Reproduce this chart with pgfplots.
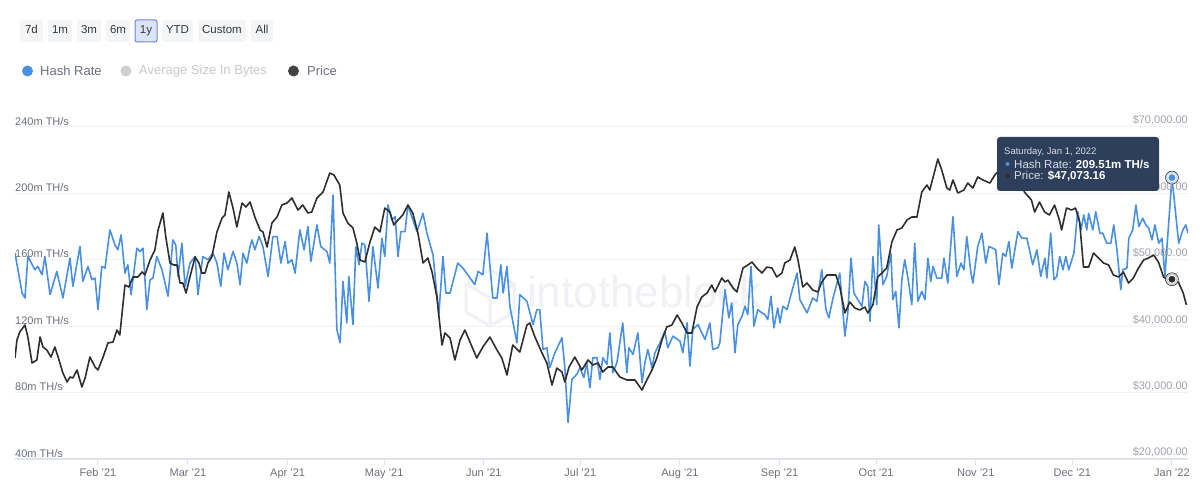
\documentclass[border=0pt]{standalone}
\usepackage{fontspec}
\setmainfont{Liberation Sans}
\usepackage{pgfplots}
\pgfplotsset{compat=1.18}
\definecolor{hash}{HTML}{4A90E2}
\definecolor{hashhalo}{HTML}{C9DDF5}
\definecolor{pricec}{HTML}{2E2E2E}
\definecolor{pricehalo}{HTML}{CFCFCF}
\definecolor{gridc}{HTML}{F1F2F5}
\definecolor{axisc}{HTML}{DDE2EC}
\definecolor{lbl}{HTML}{6B7079}
\definecolor{rlbl}{HTML}{9EA2AA}
\definecolor{tipc}{HTML}{2E3F5C}
\definecolor{tiptext}{HTML}{D5DBE5}
\definecolor{btn}{HTML}{F4F5F7}
\definecolor{btntext}{HTML}{333842}
\definecolor{selfill}{HTML}{DCE5F7}
\definecolor{selborder}{HTML}{6C84DB}
\definecolor{legtext}{HTML}{6B7080}
\definecolor{avgdot}{HTML}{D0D0D0}
\definecolor{avgtext}{HTML}{C6C8CC}
\definecolor{wm}{HTML}{F0F1F4}
\begin{document}
\begin{tikzpicture}[x=1pt,y=1pt]
\useasboundingbox (0,0) rectangle (1200,492);
% range buttons
\foreach \a/\b/\t in {20/43/7d, 48/72/1m, 77/101/3m, 106/130/6m, 162/193/YTD, 198/246/Custom, 251/273/All} {
  \fill[btn, rounded corners=2pt] (\a,450) rectangle (\b,472);
  \node[inner sep=0pt, font=\fontsize{11.5}{13}\selectfont, text=btntext, text height=8pt, text depth=2pt] at ({(\a+\b)/2},461) {\t};
}
\filldraw[fill=selfill, draw=selborder, line width=1pt, rounded corners=2pt] (135,450) rectangle (157,472);
\node[inner sep=0pt, font=\fontsize{11.5}{13}\selectfont, text=btntext, text height=8pt, text depth=2pt] at (146,461) {1y};
% legend
\fill[hash] (27.5,421) circle (5.5);
\node[anchor=west, inner sep=0pt, font=\fontsize{13}{15}\selectfont, text=legtext] at (40,421) {Hash Rate};
\fill[avgdot] (126,421) circle (5.5);
\node[anchor=west, inner sep=0pt, font=\fontsize{13}{15}\selectfont, text=avgtext] at (139,421) {Average Size In Bytes};
\fill[pricec!90] (293.5,421) circle (5.5);
\node[anchor=west, inner sep=0pt, font=\fontsize{13}{15}\selectfont, text=legtext] at (307,421) {Price};
% watermark
\draw[wm, line width=3pt, line join=round] (490,222) -- (514,208) -- (514,180) -- (490,166) -- (466,180) -- (466,208) -- cycle;
\draw[wm, line width=3pt, line join=round] (466,208) -- (490,194) -- (514,208) (490,194) -- (490,166);
\node[anchor=west, inner sep=0pt, font=\fontsize{44}{50}\selectfont, text=wm] at (527,200) {intotheblock};
% hash rate axis
\begin{axis}[
  at={(15pt,33pt)}, anchor=south west, scale only axis,
  width=1173pt, height=332pt,
  xmin=5.2, xmax=370, ymin=40, ymax=240,
  axis x line*=bottom, axis y line*=left,
  x axis line style={axisc, line width=1.5pt, -},
  y axis line style={draw=none},
  xtick={31,59,90,120,151,181,212,243,273,304,334,365},
  xticklabels={Feb '21, Mar '21, Apr '21, May '21, Jun '21, Jul '21, Aug '21, Sep '21, Oct '21, Nov '21, Dec '21, Jan '22},
  xtick style={axisc, line width=1pt},
  tick align=outside, major tick length=6pt,
  ytick={40,80,120,160,200,240},
  yticklabels={40m TH/s, 80m TH/s, 120m TH/s, 160m TH/s, 200m TH/s, 240m TH/s},
  ytick style={draw=none},
  ymajorgrids, major grid style={gridc, line width=1pt},
  yticklabel style={anchor=south west, inner sep=0pt, font=\fontsize{11}{13}\selectfont, text=lbl, yshift=1.5pt, xshift=6pt},
  xticklabel style={inner sep=0pt, font=\fontsize{11}{13}\selectfont, text=lbl, text height=8pt, text depth=2pt, yshift=-3pt},
]
\addplot[hash, line width=1.6pt, line join=round] coordinates {
(5.2,164)(7.4,140)(8.3,137)(9.2,162)(11.4,154)(12.3,156)(13.6,151)(14.5,162)(16.1,139)(18.2,153)(20.1,137)(22.3,161)(23.2,144)(25.4,168)(26.3,147)(27.9,156)(29.1,148)(30.1,149)(31.0,130)(32.2,156)(33.2,155)(34.7,178)(36.3,169)(37.2,166)(38.2,175)(39.4,152)(40.3,157)(41.3,139)(43.1,167)(44.1,165)(45.0,167)(46.2,130)(47.2,148)(48.1,149)(49.3,162)(50.9,154)(52.8,138)(54.3,172)(55.2,169)(55.9,150)(57.1,170)(58.1,144)(59.6,158)(61.2,162)(62.1,139)(63.6,162)(65.2,160)(66.8,164)(68.0,158)(69.2,144)(70.2,164)(71.4,154)(73.0,165)(74.2,158)(75.2,145)(76.1,164)(77.3,158)(78.3,168)(78.9,172)(79.8,166)(81.1,174)(82.3,168)(83.9,150)(85.4,174)(86.7,174)(87.9,158)(89.2,171)(90.1,158)(91.3,160)(92.3,152)(93.8,178)(95.1,166)(96.3,180)(97.2,159)(99.1,181)(100.3,168)(102.2,165)(103.1,158)(104.1,199)(105.3,118)(106.3,110)(107.2,147)(108.4,122)(109.0,150)(110.3,121)(111.2,168)(112.2,157)(113.1,170)(114.0,169)(115.3,135)(116.5,168)(118.1,143)(119.3,173)(120.2,162)(121.2,193)(122.4,184)(123.4,186)(124.3,162)(125.2,177)(126.5,177)(127.4,193)(128.6,186)(130.2,177)(132.1,188)(133.3,176)(135.2,163)(137.0,127)(138.3,162)(139.2,140)(140.5,140)(142.9,158)(144.5,155)(146.0,151)(148.2,145)(149.2,153)(150.7,151)(152.0,176)(153.8,137)(155.1,137)(156.3,157)(157.0,140)(158.2,156)(159.1,132)(161.3,110)(162.2,139)(164.4,135)(166.3,121)(167.5,130)(168.4,130)(169.4,106)(170.6,107)(171.5,95)(173.1,104)(175.3,113)(176.2,95)(177.2,62)(178.4,88)(179.9,91)(180.9,95)(182.1,89)(183.0,98)(184.0,83)(184.9,101)(186.2,101)(187.1,88)(188.0,101)(189.3,97)(190.2,116)(191.1,92)(192.4,98)(194.2,122)(195.5,92)(196.1,107)(197.4,103)(198.9,116)(200.2,86)(201.1,98)(202.0,106)(203.3,95)(204.2,104)(205.8,110)(207.3,117)(208.2,107)(209.8,114)(212.0,111)(212.9,104)(214.2,122)(215.1,96)(216.0,118)(217.6,121)(218.8,116)(219.8,112)(221.3,122)(222.2,106)(223.8,107)(224.4,110)(226.0,142)(227.2,125)(228.1,134)(229.1,104)(230.0,121)(231.3,126)(232.2,132)(233.1,127)(234.1,156)(235.0,120)(236.2,130)(237.5,128)(238.4,127)(239.3,124)(240.3,138)(241.2,119)(242.4,131)(243.1,122)(244.0,132)(245.3,130)(246.8,141)(248.4,152)(249.3,136)(251.5,128)(253.3,137)(254.6,135)(256.1,154)(257.4,130)(258.3,125)(259.6,137)(261.7,152)(263.3,114)(264.2,128)(265.2,161)(266.1,140)(267.3,136)(268.6,132)(269.5,147)(270.4,144)(271.1,123)(272.0,162)(273.2,133)(273.8,181)(275.1,145)(276.3,150)(277.6,164)(278.2,136)(279.1,141)(280.1,119)(281.0,148)(281.9,160)(282.9,149)(284.1,133)(285.0,170)(286.0,135)(287.2,141)(288.2,136)(289.1,161)(290.0,147)(290.7,156)(291.9,149)(293.4,149)(294.1,161)(295.3,146)(296.9,186)(298.1,150)(299.4,158)(300.3,154)(301.2,174)(302.5,152)(303.1,146)(304.6,168)(305.9,176)(307.1,158)(308.1,168)(309.3,167)(310.2,166)(311.2,145)(312.4,164)(313.3,162)(314.3,171)(315.2,155)(317.1,177)(318.3,173)(319.9,173)(321.7,157)(323.0,166)(324.2,150)(325.5,161)(326.1,149)(327.3,176)(328.3,148)(329.2,150)(330.1,162)(331.1,154)(332.0,162)(332.9,154)(334.5,164)(335.7,189)(336.7,178)(337.6,187)(338.5,178)(339.1,188)(340.4,178)(341.3,189)(342.6,176)(343.5,176)(344.7,170)(346.0,170)(346.9,181)(347.9,166)(349.1,142)(349.7,154)(351.0,155)(351.6,173)(352.8,178)(353.8,193)(354.7,180)(355.9,185)(356.9,181)(357.8,179)(358.8,172)(359.7,181)(360.9,170)(361.9,173)(362.8,150)(365,209.51)(367.1,170)(368.4,178)(369.3,181)(370.0,176)
};
\addplot[only marks, mark=*, mark size=6.5pt, mark options={fill=hashhalo, draw=none}] coordinates {(365,209.51)};
\addplot[only marks, mark=*, mark size=4pt, mark options={fill=hash, draw=white, line width=0.8pt}] coordinates {(365,209.51)};
\end{axis}
% price axis
\begin{axis}[
  at={(15pt,33pt)}, anchor=south west, scale only axis,
  width=1173pt, height=332pt,
  xmin=5.2, xmax=370, ymin=20000, ymax=70000,
  axis x line=none, axis y line*=right,
  y axis line style={draw=none},
  scaled y ticks=false,
  ytick={20000,30000,40000,50000,60000,70000},
  yticklabels={{\$20,000.00},{\$30,000.00},{\$40,000.00},{\$50,000.00},{\$60,000.00},{\$70,000.00}},
  ytick style={draw=none},
  yticklabel style={anchor=south east, inner sep=0pt, font=\fontsize{11}{13}\selectfont, text=rlbl, yshift=1.5pt},
]
\addplot[pricec, line width=1.6pt, line join=round] coordinates {
(5.2,35210)(5.8,37920)(6.7,39130)(8.3,40180)(9.2,38370)(10.5,34460)(12.0,34910)(13.0,38370)(13.9,36870)(15.1,36410)(16.4,35360)(17.6,36870)(18.6,35360)(20.1,32950)(21.4,31600)(22.3,32350)(23.2,32200)(24.5,33400)(26.0,30840)(27.0,32200)(28.5,35360)(30.1,33860)(31.0,33400)(32.6,35360)(34.1,37470)(35.7,37620)(36.9,39430)(37.8,38670)(39.4,46200)(40.6,45900)(41.9,47410)(43.4,47410)(44.7,48160)(45.6,47710)(47.2,49970)(48.7,51470)(49.7,54490)(51.2,57050)(52.1,53430)(53.4,49520)(54.6,49220)(55.6,49220)(56.5,46500)(57.4,46500)(58.4,45000)(59.6,47410)(61.2,50420)(62.4,49520)(63.3,48010)(64.3,48010)(65.2,49520)(66.4,50420)(68.0,54190)(69.6,56300)(70.5,56750)(71.7,60210)(73.0,57800)(74.2,54940)(75.8,58550)(77.0,57950)(78.3,58700)(79.8,56450)(81.4,54490)(82.3,54190)(83.6,51930)(85.1,55540)(86.7,56450)(88.2,58250)(89.8,58550)(91.3,59310)(93.2,57500)(94.7,58250)(96.3,57050)(97.5,57200)(99.1,59310)(101.0,60210)(103.1,63070)(104.4,62770)(106.2,61260)(107.2,57050)(108.7,55540)(110.3,54790)(111.5,52530)(112.5,49970)(114.0,49670)(115.6,52680)(117.1,54940)(118.7,54190)(120.2,57800)(121.8,57200)(123.0,55240)(124.3,55990)(125.8,56750)(127.4,58250)(128.9,57050)(130.5,54040)(132.1,49520)(133.6,50270)(134.9,48160)(136.4,44400)(138.0,37170)(138.9,38980)(140.5,38220)(142.0,34910)(143.6,37920)(145.1,39430)(146.7,37620)(148.8,35210)(150.7,36870)(152.9,38370)(155.1,36410)(156.6,35210)(158.2,32650)(160.0,37170)(162.2,36110)(164.4,40180)(165.3,40480)(166.9,38370)(169.1,35960)(170.6,34460)(172.2,31140)(173.7,33700)(175.3,33100)(176.2,31600)(177.5,33860)(179.3,35360)(181.5,33400)(183.4,34910)(184.9,34160)(186.5,34460)(188.0,33100)(189.6,33860)(191.1,33860)(193.3,32350)(195.5,31900)(198.0,31900)(200.2,30390)(201.7,31900)(203.3,33400)(204.8,35210)(206.4,37920)(207.9,39880)(209.5,40180)(211.1,41690)(212.6,40480)(214.2,38980)(215.7,38980)(217.3,42890)(218.8,44400)(220.4,45000)(221.9,46200)(222.9,45150)(225.0,47260)(226.0,46650)(226.9,46950)(228.5,45750)(229.7,45150)(231.6,48760)(233.1,49220)(234.4,49670)(235.9,48760)(237.5,48010)(239.0,48910)(240.6,48760)(242.1,47410)(243.7,48010)(244.6,49520)(246.2,49970)(247.7,51930)(248.7,49970)(250.2,45900)(251.5,46500)(253.3,45450)(254.9,45150)(256.1,46650)(257.7,47710)(259.2,47710)(260.5,47710)(261.7,45900)(263.3,41990)(264.8,43640)(266.4,42740)(267.9,42440)(269.5,42890)(270.4,41990)(272.0,43190)(273.5,47410)(274.8,48010)(276.3,48760)(277.9,52680)(279.5,54490)(281.0,54790)(282.6,55990)(284.1,56450)(285.7,56450)(287.2,60210)(288.8,61260)(289.7,60510)(292.2,65180)(293.4,63520)(295.0,60810)(295.9,60510)(296.9,62020)(298.4,60060)(300.3,60510)(301.5,61560)(303.1,60810)(304.6,62470)(306.2,62020)(308.4,61560)(309.9,62770)(311.3,63500)(313.0,66800)(314.8,64300)(316.8,63600)(318.3,61800)(319.1,60210)(321.3,59000)(322.3,57200)(323.8,58700)(325.4,57200)(326.9,56750)(328.5,58250)(330.0,55990)(330.7,54490)(332.2,57800)(333.8,57500)(335.0,57800)(336.3,55690)(337.5,48910)(339.1,48910)(340.6,51020)(342.2,50270)(343.7,49520)(345.3,49220)(346.8,47710)(348.4,47410)(349.9,48160)(351.5,46500)(353.0,47260)(354.6,48760)(356.2,49970)(357.7,50270)(359.3,50720)(360.8,49670)(362.4,47410)(363.9,46950)(365,47073.16)(367.0,46650)(368.5,45000)(369.5,43190)
};
\addplot[only marks, mark=*, mark size=6.5pt, mark options={fill=pricehalo, draw=none}] coordinates {(365,47073.16)};
\addplot[only marks, mark=*, mark size=4pt, mark options={fill=pricec, draw=white, line width=0.8pt}] coordinates {(365,47073.16)};
\end{axis}
% tooltip
\fill[tipc, rounded corners=3pt] (997,301) rectangle (1159,355);
\node[anchor=west, inner sep=0pt, font=\fontsize{9.5}{11}\selectfont, text=tiptext] at (1004,340) {Saturday, Jan 1, 2022};
\fill[hash] (1007.5,328) circle (2);
\node[anchor=west, inner sep=0pt, font=\fontsize{11.5}{13}\selectfont, text=tiptext] at (1014,328) {Hash Rate: \textcolor{white}{\textbf{209.51m TH/s}}};
\fill[pricec] (1007.5,316) circle (2);
\node[anchor=west, inner sep=0pt, font=\fontsize{11.5}{13}\selectfont, text=tiptext] at (1014,316) {Price: \textcolor{white}{\textbf{\$47,073.16}}};
\end{tikzpicture}
\end{document}
